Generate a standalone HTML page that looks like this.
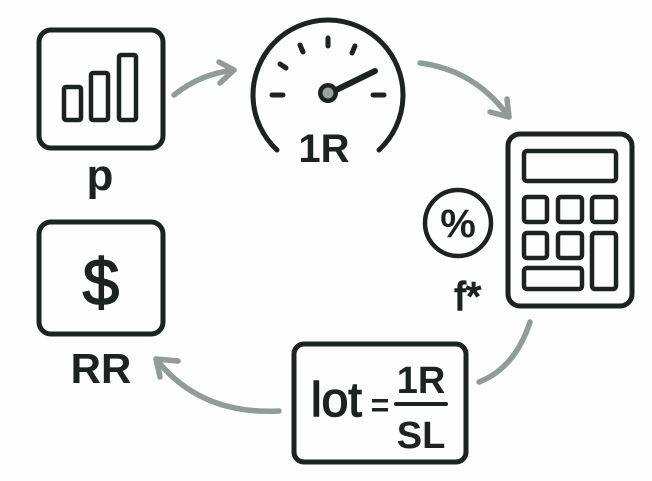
<!DOCTYPE html>
<html><head><meta charset="utf-8"><style>
html,body{margin:0;padding:0;background:#fff;}
svg{display:block;}
text{font-family:"Liberation Sans",sans-serif;font-weight:bold;fill:#1e2222;}
</style></head><body>
<svg width="652" height="481" viewBox="0 0 652 481" xmlns="http://www.w3.org/2000/svg">
<rect width="652" height="481" fill="#fefefe"/>
<g fill="none" stroke="#1e2222" stroke-width="5" stroke-linecap="round" stroke-linejoin="round">
  <rect x="39" y="30" width="124" height="118" rx="12"/>
  <rect x="64" y="87" width="17" height="33" rx="2" stroke-width="4.5"/>
  <rect x="91" y="73" width="17" height="47" rx="2" stroke-width="4.5"/>
  <rect x="119" y="55" width="17" height="65" rx="2" stroke-width="4.5"/>
  <rect x="39" y="222" width="124" height="112" rx="12"/>
  <path d="M277 150 A75 75 0 1 1 379 150"/>
  <line x1="272" y1="95" x2="283" y2="95"/>
  <line x1="373" y1="95" x2="384" y2="95"/>
  <line x1="280" y1="64" x2="286" y2="68"/>
  <line x1="300" y1="45" x2="303" y2="52"/>
  <line x1="328" y1="38" x2="328" y2="46"/>
  <line x1="355" y1="46" x2="352" y2="53"/>
  <line x1="330" y1="93" x2="375" y2="71" stroke-width="6"/>
  <rect x="508" y="134" width="124" height="172" rx="12"/>
  <rect x="524" y="151" width="92" height="30" rx="3" stroke-width="4.5"/>
  <rect x="524" y="197" width="23" height="25" rx="3" stroke-width="4.5"/>
  <rect x="558" y="197" width="24" height="25" rx="3" stroke-width="4.5"/>
  <rect x="592" y="197" width="24" height="25" rx="3" stroke-width="4.5"/>
  <rect x="524" y="233" width="23" height="25" rx="3" stroke-width="4.5"/>
  <rect x="558" y="233" width="24" height="25" rx="3" stroke-width="4.5"/>
  <rect x="592" y="233" width="24" height="56" rx="3" stroke-width="4.5"/>
  <rect x="524" y="268" width="58" height="21" rx="3" stroke-width="4.5"/>
  <circle cx="458" cy="223" r="33" stroke-width="4.5"/>
  <rect x="294" y="344" width="172" height="118" rx="10"/>
  <line x1="396" y1="404" x2="446" y2="404" stroke-width="4"/>
</g>
<circle cx="328" cy="93" r="10" fill="#1e2222"/>
<circle cx="328" cy="93" r="5.5" fill="#9aa0a0"/>
<g fill="none" stroke="#939a9a" stroke-width="5.5" stroke-linecap="round" stroke-linejoin="round">
  <path d="M174 95 Q200 74 234 70"/>
  <path d="M219 62 L234 70 L220 83"/>
  <path d="M420 63 Q475 70 509 117"/>
  <path d="M490 112 L509 117 L507 99"/>
  <path d="M530 322 Q515 368 479 382"/>
  <path d="M279 411 Q200 415 156 359"/>
  <path d="M156 359 L178 361 M156 359 L160 377"/>
</g>
<text x="100" y="190" font-size="44" text-anchor="middle">p</text>
<text x="101" y="305" font-size="66" text-anchor="middle" style="font-weight:normal" stroke="#1e2222" stroke-width="1.5">$</text>
<text x="101" y="383" font-size="42" text-anchor="middle">RR</text>
<text x="324" y="162" font-size="40" text-anchor="middle">1R</text>
<text x="458" y="237" font-size="40" text-anchor="middle">%</text>
<text x="468" y="310" font-size="40" text-anchor="middle" style="font-weight:normal" stroke="#1e2222" stroke-width="1.5">f*</text>
<text x="311" y="416" font-size="48" style="font-weight:normal" stroke="#1e2222" stroke-width="1.5">lot</text>
<text x="380" y="416" font-size="32" text-anchor="middle">=</text>
<text x="421" y="393" font-size="38" text-anchor="middle">1R</text>
<text x="421" y="448" font-size="38" text-anchor="middle">SL</text>
</svg>
</body></html>
